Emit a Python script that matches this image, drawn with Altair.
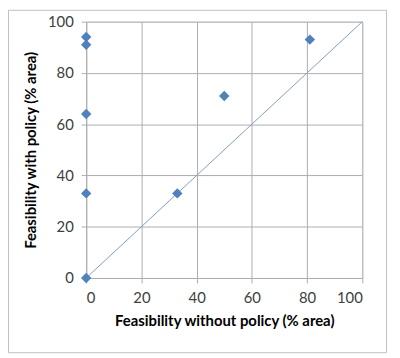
import altair as alt
import pandas as pd

without_policy = [0, 0, 0, 0, 0, 33, 50, 81]
with_policy = [94, 91, 64, 33, 0, 33, 71, 93]
diag_x = [0, 100]
diag_y = [0, 100]
ticks = [0, 20, 40, 60, 80, 100]

pts = pd.DataFrame({"x": without_policy, "y": with_policy})
diag = pd.DataFrame({"x": diag_x, "y": diag_y})

FONT = "Lato"

xs = alt.Scale(domain=[0, 100], nice=False)
ys = alt.Scale(domain=[0, 100], nice=False)

xaxis = alt.Axis(values=ticks, title="Feasibility without policy (% area)", grid=True,
                 gridColor="#adadad", domainColor="#adadad", tickColor="#adadad",
                 tickSize=5, labelPadding=8, labelFontSize=15, labelColor="#404040",
                 labelFont=FONT, titleFont=FONT, titleFontSize=15, titleFontWeight="bold",
                 titleColor="#000000", titlePadding=8)
yaxis = alt.Axis(values=ticks, title="Feasibility with policy (% area)", grid=True,
                 gridColor="#adadad", domainColor="#adadad", tickColor="#adadad",
                 tickSize=5, labelPadding=8, labelFontSize=15, labelColor="#404040",
                 labelFont=FONT, titleFont=FONT, titleFontSize=15, titleFontWeight="bold",
                 titleColor="#000000", titlePadding=9)

border = alt.Chart(pd.DataFrame({"a": [0]})).mark_rect(
    fillOpacity=0, stroke="#bfbfbf", strokeWidth=1
).encode(x=alt.value(-78.5), x2=alt.value(303.5), y=alt.value(-11.5), y2=alt.value(334.5))

line = alt.Chart(diag).mark_line(color="#7f9fc3", strokeWidth=1).encode(
    x=alt.X("x:Q", scale=xs, axis=xaxis),
    y=alt.Y("y:Q", scale=ys, axis=yaxis),
)

points = alt.Chart(pts).mark_point(shape="diamond", filled=True, size=110,
                                   color="#4f81bd", opacity=1).encode(
    x=alt.X("x:Q", scale=xs),
    y=alt.Y("y:Q", scale=ys),
)

chart = alt.layer(line, points, border).properties(
    width=279, height=259,
    autosize=alt.AutoSizeParams(type="none"),
    padding={"left": 79, "top": 12, "right": 30, "bottom": 76},
).configure_view(stroke=None).configure(background="white")

chart.save("out.html", embed_options={"renderer": "svg", "actions": False})
